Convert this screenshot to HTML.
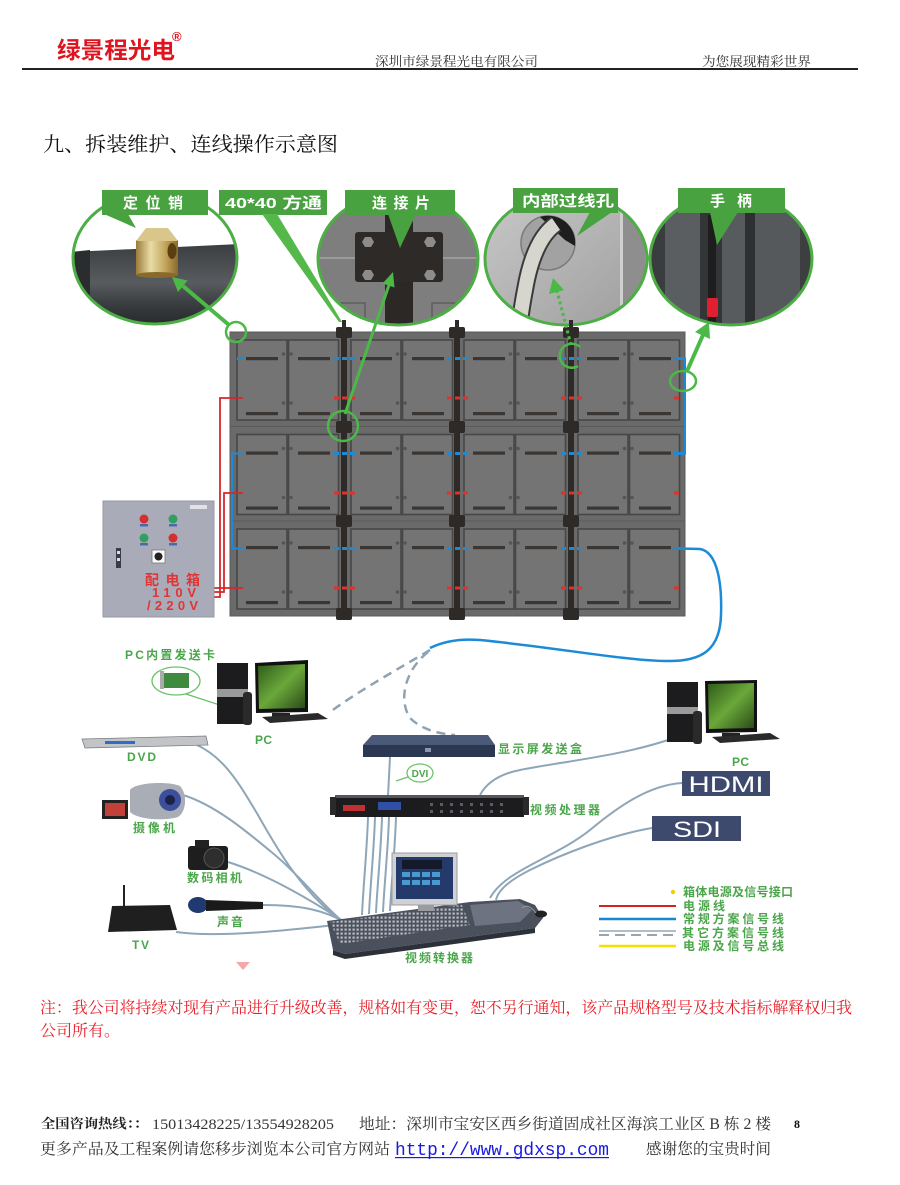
<!DOCTYPE html>
<html><head><meta charset="utf-8">
<style>
html,body{margin:0;padding:0;background:#fff;}
body{width:900px;height:1185px;overflow:hidden;position:relative;}
svg{position:absolute;left:0;top:0;}
.sr{font-family:"Liberation Serif","Noto Serif CJK SC",serif;}
.ss{font-family:"Liberation Sans","Noto Sans CJK SC",sans-serif;}
.gl{font-family:"Liberation Sans","Noto Sans CJK SC",sans-serif;fill:#4aa64a;font-weight:bold;}
</style></head>
<body>
<svg width="900" height="1185" viewBox="0 0 900 1185" xmlns="http://www.w3.org/2000/svg">
<defs>
  <g id="cab">
    <rect x="0" y="0" width="114" height="95" fill="#6a6a6a" stroke="#5a5a5a" stroke-width="1"/>
    <rect x="7" y="8" width="50" height="80" fill="#747474" stroke="#474747" stroke-width="1.6"/>
    <rect x="58.5" y="8" width="50" height="80" fill="#747474" stroke="#474747" stroke-width="1.6"/>
    <rect x="16" y="25" width="32" height="3.2" fill="#3a3633"/>
    <rect x="68" y="25" width="32" height="3.2" fill="#3a3633"/>
    <rect x="16" y="80" width="32" height="3.2" fill="#3a3633"/>
    <rect x="68" y="80" width="32" height="3.2" fill="#3a3633"/>
    <circle cx="53.5" cy="22" r="1.8" fill="#555"/><circle cx="61" cy="22" r="1.8" fill="#555"/>
    <circle cx="53.5" cy="71" r="1.8" fill="#555"/><circle cx="61" cy="71" r="1.8" fill="#555"/>
  </g>
  <clipPath id="c1"><ellipse cx="155" cy="258" rx="82" ry="66"/></clipPath>
  <clipPath id="c2"><ellipse cx="398" cy="259" rx="80" ry="66"/></clipPath>
  <clipPath id="c3"><ellipse cx="566" cy="259" rx="81" ry="66"/></clipPath>
  <clipPath id="c4"><ellipse cx="731" cy="259" rx="81" ry="66"/></clipPath>
  <linearGradient id="gold" x1="0" x2="1" y1="0" y2="0">
    <stop offset="0" stop-color="#9a7a38"/><stop offset="0.35" stop-color="#e9dca6"/><stop offset="0.7" stop-color="#c2a45c"/><stop offset="1" stop-color="#8a6a2a"/>
  </linearGradient>
  <linearGradient id="plate" x1="0" x2="0" y1="0" y2="1">
    <stop offset="0" stop-color="#3a3e41"/><stop offset="0.45" stop-color="#585c5f"/><stop offset="0.7" stop-color="#3a3d40"/><stop offset="1" stop-color="#222426"/>
  </linearGradient>
  <linearGradient id="metal" x1="0" x2="1" y1="0" y2="1">
    <stop offset="0" stop-color="#c9c9c9"/><stop offset="1" stop-color="#9c9c9c"/>
  </linearGradient>
  <linearGradient id="scr" x1="0" x2="1" y1="0" y2="1">
    <stop offset="0" stop-color="#2e5a1a"/><stop offset="0.5" stop-color="#6aa83a"/><stop offset="1" stop-color="#2a4a18"/>
  </linearGradient>
  <pattern id="btn" width="4" height="4" patternUnits="userSpaceOnUse">
    <rect width="4" height="4" fill="#4c525e"/><rect x="0.5" y="0.5" width="2.2" height="2.2" fill="#b9bec6"/>
  </pattern>
</defs>

<!-- HEADER -->
<text x="57" y="58" class="ss" font-size="23" font-weight="bold" fill="#e0141e" textLength="118" lengthAdjust="spacingAndGlyphs">绿景程光电</text>
<text x="172" y="41" class="ss" font-size="13" font-weight="bold" fill="#e0141e">®</text>
<text x="375" y="66" class="sr" font-size="13" fill="#333" textLength="163" lengthAdjust="spacingAndGlyphs">深圳市绿景程光电有限公司</text>
<text x="702" y="66" class="sr" font-size="13" fill="#333" textLength="109" lengthAdjust="spacingAndGlyphs">为您展现精彩世界</text>
<rect x="22" y="68" width="836" height="2" fill="#222"/>

<!-- TITLE -->
<text x="43" y="151" class="sr" font-size="20" fill="#111" textLength="295" lengthAdjust="spacingAndGlyphs">九、拆装维护、连线操作示意图</text>

<!-- CALLOUT 1 定位销 -->
<g clip-path="url(#c1)">
  <rect x="70" y="190" width="170" height="140" fill="#fff"/>
  <polygon points="70,252 240,244 240,330 70,330" fill="url(#plate)"/>
  <polygon points="70,252 90,250 90,330 70,330" fill="#2a2c2e"/>
  <rect x="136" y="240" width="42" height="35" fill="url(#gold)"/>
  <polygon points="136,241 146,228 168,228 178,241" fill="#d8c68a"/>
  <ellipse cx="157" cy="275" rx="21" ry="3" fill="#8a6a2a"/>
  <ellipse cx="172" cy="251" rx="4.5" ry="8" fill="#5a4010"/>
</g>
<ellipse cx="155" cy="258" rx="82" ry="66" fill="none" stroke="#4cae44" stroke-width="3"/>

<!-- CALLOUT 2 连接片 -->
<g clip-path="url(#c2)">
  <rect x="315" y="190" width="170" height="140" fill="#7e7e7e"/>
  <line x1="318" y1="258" x2="478" y2="258" stroke="#9a9a9a" stroke-width="2"/>
  <rect x="323" y="303" width="42" height="30" fill="none" stroke="#5e5e5e" stroke-width="1.5"/>
  <rect x="432" y="303" width="45" height="30" fill="none" stroke="#5e5e5e" stroke-width="1.5"/>
  <rect x="385" y="190" width="28" height="140" fill="#2b2826"/>
  <rect x="355" y="232" width="88" height="50" rx="3" fill="#2d2a28"/>
  <polygon points="362,242 365,237 371,237 374,242 371,247 365,247" fill="#8c8c8c"/>
  <polygon points="424,242 427,237 433,237 436,242 433,247 427,247" fill="#8c8c8c"/>
  <polygon points="362,275 365,270 371,270 374,275 371,280 365,280" fill="#8c8c8c"/>
  <polygon points="424,275 427,270 433,270 436,275 433,280 427,280" fill="#8c8c8c"/>
</g>
<ellipse cx="398" cy="259" rx="80" ry="66" fill="none" stroke="#4cae44" stroke-width="3"/>

<!-- CALLOUT 3 内部过线孔 -->
<g clip-path="url(#c3)">
  <rect x="483" y="190" width="168" height="140" fill="url(#metal)"/>
  <rect x="620" y="190" width="25" height="140" fill="#8e8e8e"/>
  <rect x="620" y="190" width="3" height="140" fill="#d0d0d0"/>
  <circle cx="548" cy="243" r="27" fill="#a2a2a2" stroke="#7a7a7a" stroke-width="1.5"/>
  <path d="M540,217 A27,27 0 0,1 575,246 L565,240 Z" fill="#1e1e1e"/>
  <path d="M556,224 C540,235 530,260 525,290 C522,305 520,320 518,335" fill="none" stroke="#3a3a3a" stroke-width="18"/>
  <path d="M556,224 C540,235 530,260 525,290 C522,305 520,320 518,335" fill="none" stroke="#d6d6cf" stroke-width="14"/>
</g>
<ellipse cx="566" cy="259" rx="81" ry="66" fill="none" stroke="#4cae44" stroke-width="3"/>

<!-- CALLOUT 4 手柄 -->
<g clip-path="url(#c4)">
  <rect x="648" y="190" width="168" height="140" fill="#4d5053"/>
  <rect x="650" y="190" width="15" height="140" fill="#3a3c3e"/>
  <rect x="665" y="190" width="35" height="140" fill="#5b5e61"/>
  <rect x="700" y="190" width="22" height="140" fill="#343537"/>
  <rect x="708" y="215" width="8" height="115" fill="#1d1d1e"/>
  <rect x="722" y="190" width="23" height="140" fill="#585b5e"/>
  <rect x="745" y="190" width="10" height="140" fill="#2d2f31"/>
  <rect x="755" y="190" width="45" height="140" fill="#56595c"/>
  <rect x="800" y="190" width="16" height="140" fill="#3c3e40"/>
  <rect x="707" y="298" width="11" height="19" rx="2" fill="#e02030"/>
</g>
<ellipse cx="731" cy="259" rx="81" ry="66" fill="none" stroke="#4cae44" stroke-width="3"/>

<!-- label boxes -->
<g fill="#47a23f">
  <rect x="102" y="190" width="106" height="25"/>
  <polygon points="104,214 128,214 136,228"/>
  <rect x="219" y="190" width="108" height="25"/>
  <polygon points="262,214 277,214 342,322 339,322" fill="#55b84a"/>
  <rect x="345" y="190" width="110" height="25"/>
  <polygon points="388,214 416,214 400,248"/>
  <rect x="513" y="188" width="105" height="25"/>
  <polygon points="590,212 612,212 577,236"/>
  <rect x="678" y="188" width="107" height="25"/>
  <polygon points="710,212 738,212 717,245"/>
</g>
<g class="ss" font-size="15" font-weight="bold" fill="#fff">
  <text x="123" y="208" textLength="60" lengthAdjust="spacing">定位销</text>
  <text x="225" y="208" textLength="97" lengthAdjust="spacingAndGlyphs">40*40 方通</text>
  <text x="372" y="208" textLength="58" lengthAdjust="spacing">连接片</text>
  <text x="522" y="206" textLength="92" lengthAdjust="spacingAndGlyphs">内部过线孔</text>
  <text x="710" y="206" textLength="42" lengthAdjust="spacing">手柄</text>
</g>

<!-- PANEL -->
<g>
  <use href="#cab" x="230" y="332"/><use href="#cab" x="344" y="332"/><use href="#cab" x="457" y="332"/><use href="#cab" x="571" y="332"/>
  <use href="#cab" x="230" y="426.5"/><use href="#cab" x="344" y="426.5"/><use href="#cab" x="457" y="426.5"/><use href="#cab" x="571" y="426.5"/>
  <use href="#cab" x="230" y="521"/><use href="#cab" x="344" y="521"/><use href="#cab" x="457" y="521"/><use href="#cab" x="571" y="521"/>
</g>
<!-- vertical bars -->
<g fill="#2e2a27">
  <rect x="342" y="320" width="4" height="10"/><rect x="341" y="330" width="6" height="288"/>
  <rect x="336" y="327" width="16" height="11" rx="2"/><rect x="336" y="421" width="16" height="12" rx="2"/><rect x="336" y="515" width="16" height="12" rx="2"/><rect x="336" y="608" width="16" height="12" rx="2"/>
  <rect x="455" y="320" width="4" height="10"/><rect x="454" y="330" width="6" height="288"/>
  <rect x="449" y="327" width="16" height="11" rx="2"/><rect x="449" y="421" width="16" height="12" rx="2"/><rect x="449" y="515" width="16" height="12" rx="2"/><rect x="449" y="608" width="16" height="12" rx="2"/>
  <rect x="569" y="320" width="4" height="10"/><rect x="568" y="330" width="6" height="288"/>
  <rect x="563" y="327" width="16" height="11" rx="2"/><rect x="563" y="421" width="16" height="12" rx="2"/><rect x="563" y="515" width="16" height="12" rx="2"/><rect x="563" y="608" width="16" height="12" rx="2"/>
</g>
<!-- signal/power dashes -->
<g stroke="#1b8bd8" stroke-width="3" stroke-dasharray="5 3" fill="none">
  <line x1="334" y1="358.5" x2="356" y2="358.5"/><line x1="447" y1="358.5" x2="469" y2="358.5"/><line x1="561" y1="358.5" x2="583" y2="358.5"/>
  <line x1="334" y1="453.5" x2="356" y2="453.5"/><line x1="447" y1="453.5" x2="469" y2="453.5"/><line x1="561" y1="453.5" x2="583" y2="453.5"/>
  <line x1="334" y1="548.5" x2="356" y2="548.5"/><line x1="447" y1="548.5" x2="469" y2="548.5"/><line x1="561" y1="548.5" x2="583" y2="548.5"/>
</g>
<g stroke="#e2302a" stroke-width="3" stroke-dasharray="5 3" fill="none">
  <line x1="334" y1="398" x2="356" y2="398"/><line x1="447" y1="398" x2="469" y2="398"/><line x1="561" y1="398" x2="583" y2="398"/>
  <line x1="334" y1="493" x2="356" y2="493"/><line x1="447" y1="493" x2="469" y2="493"/><line x1="561" y1="493" x2="583" y2="493"/>
  <line x1="334" y1="588" x2="356" y2="588"/><line x1="447" y1="588" x2="469" y2="588"/><line x1="561" y1="588" x2="583" y2="588"/>
</g>
<!-- edge connectors -->
<g stroke-width="3" fill="none">
  <line x1="237" y1="358.5" x2="243" y2="358.5" stroke="#1b8bd8"/>
  <line x1="673" y1="358.5" x2="684" y2="358.5" stroke="#1b8bd8"/>
  <line x1="673" y1="453.5" x2="684" y2="453.5" stroke="#1b8bd8"/>
  <line x1="673" y1="548.5" x2="684" y2="548.5" stroke="#1b8bd8"/>
  <line x1="674" y1="398" x2="679" y2="398" stroke="#e2302a"/>
  <line x1="674" y1="493" x2="679" y2="493" stroke="#e2302a"/>
  <line x1="674" y1="588" x2="679" y2="588" stroke="#e2302a"/>
</g>
<!-- blue wiring -->
<g stroke="#1b8bd8" stroke-width="2" fill="none">
  <polyline points="243,453.5 232,453.5 232,548.5 243,548.5"/>
  <polyline points="678,358.5 685,358.5 685,453.5 678,453.5"/>
  <path d="M680,548.5 L700,549 C718,552 722,585 721,615 C720,650 702,662 665,661 C620,660 560,648 480,640 C455,638 440,643 430,648" stroke-width="2.5"/>
</g>
<!-- red power wiring -->
<g stroke="#d8262a" stroke-width="1.8" fill="none">
  <polyline points="214,597 220,597 220,398 243,398"/>
  <polyline points="214,592 224,592 224,493 243,493"/>
  <polyline points="214,588 243,588"/>
</g>

<!-- green arrows -->
<g stroke="#4cb848" fill="none">
  <circle cx="236" cy="332" r="10" stroke-width="2.5"/>
  <line x1="229" y1="325" x2="183" y2="286" stroke-width="4"/>
  <circle cx="343" cy="426" r="15" stroke-width="2.5"/>
  <line x1="345" y1="414" x2="389" y2="285" stroke-width="3"/>
  <line x1="571" y1="345" x2="557" y2="291" stroke-width="3" stroke-dasharray="3 3"/>
  <path d="M580,347 A12,12 0 1,0 578,366" stroke-width="2.5"/>
  <ellipse cx="683" cy="381" rx="13" ry="10" stroke-width="2.5"/>
  <line x1="687" y1="371" x2="703" y2="335" stroke-width="4"/>
</g>
<g fill="#4cb848">
  <polygon points="172,277 187.5,280.5 178,292"/>
  <polygon points="393,272 394.5,287.5 382.5,283.5"/>
  <polygon points="553,278 564,290 549,294"/>
  <polygon points="709,322 710,339 695,332"/>
</g>

<!-- CONTROL BOX -->
<rect x="103" y="501" width="111" height="116" fill="#a9abb8" stroke="#9799a6" stroke-width="1"/>
<rect x="190" y="505" width="17" height="4" fill="#e2e2e6"/>
<circle cx="144" cy="519" r="4.5" fill="#d43030"/><rect x="140" y="524" width="8" height="2.5" fill="#4a6ab0"/>
<circle cx="173" cy="519" r="4.5" fill="#2fa060"/><rect x="169" y="524" width="8" height="2.5" fill="#4a6ab0"/>
<circle cx="144" cy="538" r="4.5" fill="#2fa060"/><rect x="140" y="543" width="8" height="2.5" fill="#4a6ab0"/>
<circle cx="173" cy="538" r="4.5" fill="#d43030"/><rect x="169" y="543" width="8" height="2.5" fill="#4a6ab0"/>
<rect x="152" y="550" width="13" height="13" fill="#fafafa" stroke="#777" stroke-width="0.8"/>
<circle cx="158.5" cy="556.5" r="4" fill="#222"/>
<rect x="116" y="548" width="5" height="20" fill="#3a3c4c"/>
<rect x="117" y="551" width="3" height="3" fill="#ddd"/><rect x="117" y="558" width="3" height="3" fill="#ddd"/>
<g class="ss" fill="#e03535" font-weight="bold">
  <text x="145" y="585" font-size="14" textLength="55" lengthAdjust="spacing">配电箱</text>
  <text x="152" y="597" font-size="13" textLength="44" lengthAdjust="spacing">110V</text>
  <text x="147" y="610" font-size="13" textLength="51" lengthAdjust="spacing">/220V</text>
</g>

<!-- dashed other-signal lines -->
<g stroke="#8ea3b3" stroke-width="2.5" fill="none" stroke-dasharray="9 6">
  <path d="M430,650 C400,668 360,690 330,712"/>
  <path d="M428,652 C405,670 398,700 410,718 C422,730 440,734 455,735"/>
</g>

<!-- solid other-signal cables -->
<g stroke="#8ea6b8" stroke-width="2" fill="none">
  <path d="M197,745 C225,758 240,785 258,815 C275,845 300,890 338,918"/>
  <path d="M183,795 C215,805 245,830 275,855 C300,876 318,900 341,920"/>
  <path d="M228,862 C260,872 300,893 343,921"/>
  <path d="M263,905 C300,905 325,910 346,923"/>
  <path d="M176,932 C220,938 290,930 344,924"/>
  <path d="M368,817 C367,850 363,890 362,915"/>
  <path d="M375,817 C374,850 370,890 369,914"/>
  <path d="M382,817 C381,850 377,890 376,913"/>
  <path d="M389,817 C388,850 384,888 383,912"/>
  <path d="M396,817 C395,850 391,888 390,911"/>
  <path d="M390,757 L388,796"/>
  <path d="M480,795 C487,782 500,774 520,770 C560,762 620,756 668,740"/>
  <path d="M682,783 C650,785 620,805 590,830 C555,858 505,870 490,898"/>
  <path d="M652,828 C610,835 560,855 530,870 C510,880 498,890 496,900"/>
</g>

<!-- LEFT PC -->
<text x="125" y="659" class="gl" font-size="12" textLength="90" lengthAdjust="spacing">PC内置发送卡</text>
<ellipse cx="176" cy="681" rx="24" ry="14" fill="#fff" stroke="#6cc26a" stroke-width="1.3"/>
<path d="M186,694 L232,709" stroke="#6cc26a" stroke-width="1.2" fill="none"/>
<rect x="163" y="673" width="26" height="15" fill="#3e8a3e"/>
<rect x="160" y="671" width="4" height="18" fill="#aaa"/>
<rect x="217" y="663" width="31" height="61" fill="#1c1c1e"/>
<rect x="217" y="689" width="31" height="8" fill="#9a9a9a"/>
<rect x="243" y="692" width="9" height="33" rx="3" fill="#2a2a2a"/>
<polygon points="255,663 308,660 308,712 256,713" fill="#111"/>
<polygon points="258,666 305,664 305,708 259,709" fill="url(#scr)"/>
<rect x="272" y="713" width="18" height="5" fill="#222"/>
<polygon points="262,717 318,713 328,719 270,723" fill="#2a2a2a"/>
<text x="255" y="744" class="gl" font-size="12" textLength="17" lengthAdjust="spacing">PC</text>

<!-- DVD -->
<polygon points="82,739 206,736 208,745 85,748" fill="#c2c4c8" stroke="#7a7c80" stroke-width="0.8"/>
<rect x="105" y="741" width="30" height="3" fill="#2c6fc0"/>
<text x="127" y="761" class="gl" font-size="12" textLength="29" lengthAdjust="spacing">DVD</text>

<!-- Camcorder -->
<path d="M130,790 C135,782 170,781 180,786 C188,795 186,812 178,817 C165,821 138,820 130,812 Z" fill="#a9adb5"/>
<circle cx="170" cy="800" r="11" fill="#3b4f9a"/><circle cx="170" cy="800" r="5" fill="#1a2248"/>
<rect x="102" y="800" width="26" height="19" fill="#222"/>
<rect x="105" y="803" width="20" height="13" fill="#c2403a"/>
<text x="133" y="832" class="gl" font-size="12" textLength="42" lengthAdjust="spacing">摄像机</text>

<!-- Camera -->
<rect x="188" y="846" width="40" height="24" rx="3" fill="#1e1e1e"/>
<rect x="195" y="840" width="14" height="8" fill="#222"/>
<circle cx="214" cy="858" r="10" fill="#2e2e2e" stroke="#555" stroke-width="1"/>
<text x="187" y="882" class="gl" font-size="12" textLength="55" lengthAdjust="spacing">数码相机</text>

<!-- Router -->
<line x1="124" y1="885" x2="124" y2="907" stroke="#222" stroke-width="2"/>
<polygon points="112,906 170,905 177,930 108,932" fill="#1f1f1f"/>
<text x="132" y="949" class="gl" font-size="12" textLength="17" lengthAdjust="spacing">TV</text>

<!-- Mic -->
<ellipse cx="198" cy="905" rx="10" ry="8" fill="#1e3a70"/>
<polygon points="206,900 263,902 263,909 206,911" fill="#1a1a1a"/>
<text x="217" y="926" class="gl" font-size="12" textLength="26" lengthAdjust="spacing">声音</text>

<!-- Sender box -->
<polygon points="372,735 488,735 495,745 363,745" fill="#4a5a78"/>
<rect x="363" y="745" width="132" height="12" fill="#2c3852"/>
<rect x="425" y="748" width="6" height="4" fill="#8a96b0"/>
<text x="498" y="753" class="gl" font-size="12" textLength="84" lengthAdjust="spacing">显示屏发送盒</text>

<!-- DVI bubble -->
<ellipse cx="420" cy="773" rx="13" ry="9" fill="#fff" stroke="#6cc26a" stroke-width="1.3"/>
<path d="M408,777 L396,781" stroke="#6cc26a" stroke-width="1.2"/>
<text x="420" y="777" class="gl" font-size="10" text-anchor="middle">DVI</text>

<!-- Processor -->
<rect x="335" y="795" width="189" height="22" fill="#1c1c1f"/>
<rect x="335" y="795" width="189" height="3" fill="#55575c"/>
<rect x="330" y="797" width="6" height="18" fill="#2a2a2d"/>
<rect x="523" y="797" width="6" height="18" fill="#2a2a2d"/>
<rect x="343" y="805" width="22" height="6" fill="#c03030"/>
<rect x="378" y="802" width="23" height="8" fill="#3050a8"/>
<g fill="#5a5c62"><rect x="430" y="803" width="3" height="3"/><rect x="440" y="803" width="3" height="3"/><rect x="450" y="803" width="3" height="3"/><rect x="460" y="803" width="3" height="3"/><rect x="470" y="803" width="3" height="3"/><rect x="480" y="803" width="3" height="3"/><rect x="490" y="803" width="3" height="3"/><rect x="500" y="803" width="3" height="3"/><rect x="430" y="810" width="3" height="3"/><rect x="440" y="810" width="3" height="3"/><rect x="450" y="810" width="3" height="3"/><rect x="460" y="810" width="3" height="3"/><rect x="470" y="810" width="3" height="3"/><rect x="480" y="810" width="3" height="3"/><rect x="490" y="810" width="3" height="3"/><rect x="500" y="810" width="3" height="3"/></g>
<text x="530" y="814" class="gl" font-size="12" textLength="70" lengthAdjust="spacing">视频处理器</text>

<!-- Switcher -->
<path d="M327,921 L470,902 L520,899 L535,905 L543,918 L535,928 L345,954 L333,950 Z" fill="#4a505c"/>
<path d="M330,922 L462,905 L470,925 L340,944 Z" fill="url(#btn)"/>
<path d="M470,905 L518,901 L532,910 L520,922 L475,926 Z" fill="#6d7380"/>
<path d="M333,950 L345,954 L535,928 L535,933 L345,959 L333,955 Z" fill="#2c3038"/>
<rect x="392" y="853" width="65" height="52" fill="#cfd1d4" stroke="#9a9c9f" stroke-width="1"/>
<rect x="396" y="857" width="57" height="42" fill="#243a6a"/>
<g fill="#4a9ad0"><rect x="402" y="872" width="8" height="5"/><rect x="412" y="872" width="8" height="5"/><rect x="422" y="872" width="8" height="5"/><rect x="432" y="872" width="8" height="5"/><rect x="402" y="880" width="8" height="5"/><rect x="412" y="880" width="8" height="5"/><rect x="422" y="880" width="8" height="5"/><rect x="432" y="880" width="8" height="5"/></g>
<rect x="402" y="860" width="40" height="9" fill="#151a2a"/>
<rect x="418" y="905" width="16" height="6" fill="#9a9c9f"/>
<ellipse cx="541" cy="914" rx="6" ry="3.5" fill="#222"/>
<path d="M536,913 C530,905 525,905 522,908" stroke="#999" stroke-width="1" fill="none"/>
<text x="405" y="962" class="gl" font-size="12" textLength="68" lengthAdjust="spacing">视频转换器</text>
<polygon points="236,962 250,962 243,970" fill="#f4a8a8"/>

<!-- Right PC -->
<rect x="667" y="682" width="31" height="60" fill="#1c1c1e"/>
<rect x="667" y="707" width="31" height="7" fill="#9a9a9a"/>
<rect x="693" y="711" width="9" height="33" rx="3" fill="#2a2a2a"/>
<polygon points="705,681 757,680 757,732 706,733" fill="#111"/>
<polygon points="708,684 754,683 754,728 709,729" fill="url(#scr)"/>
<rect x="722" y="733" width="18" height="5" fill="#222"/>
<polygon points="712,737 770,733 780,739 720,743" fill="#2a2a2a"/>
<text x="732" y="766" class="gl" font-size="12" textLength="17" lengthAdjust="spacing">PC</text>

<!-- HDMI / SDI -->
<rect x="682" y="771" width="88" height="25" fill="#3d4a6e"/>
<text x="726" y="792" class="ss" font-size="22" fill="#fff" text-anchor="middle" textLength="75" lengthAdjust="spacingAndGlyphs">HDMI</text>
<rect x="652" y="816" width="89" height="25" fill="#3d4a6e"/>
<text x="697" y="837" class="ss" font-size="22" fill="#fff" text-anchor="middle" textLength="48" lengthAdjust="spacingAndGlyphs">SDI</text>

<!-- Legend -->
<circle cx="673" cy="892" r="2.2" fill="#f0d000"/>
<line x1="599" y1="906" x2="676" y2="906" stroke="#d62020" stroke-width="2"/>
<line x1="599" y1="919" x2="676" y2="919" stroke="#1a86d0" stroke-width="2.5"/>
<line x1="599" y1="931" x2="676" y2="931" stroke="#95a5b5" stroke-width="1.5"/>
<line x1="599" y1="935" x2="676" y2="935" stroke="#95a5b5" stroke-width="2" stroke-dasharray="10 6"/>
<line x1="599" y1="946" x2="676" y2="946" stroke="#f2e000" stroke-width="2.5"/>
<g class="gl" font-size="12" font-weight="normal">
  <text x="683" y="896" textLength="110" lengthAdjust="spacing">箱体电源及信号接口</text>
  <text x="683" y="910" textLength="42" lengthAdjust="spacing">电源线</text>
  <text x="683" y="923" textLength="101" lengthAdjust="spacing">常规方案信号线</text>
  <text x="682" y="937" textLength="102" lengthAdjust="spacing">其它方案信号线</text>
  <text x="683" y="950" textLength="101" lengthAdjust="spacing">电源及信号总线</text>
</g>

<!-- NOTE -->
<g class="sr" fill="#e8202a" font-size="16">
  <text x="40" y="1013" textLength="812" lengthAdjust="spacingAndGlyphs">注：我公司将持续对现有产品进行升级改善，规格如有变更，恕不另行通知，该产品规格型号及技术指标解释权归我</text>
  <text x="40" y="1036">公司所有。</text>
</g>

<!-- FOOTER -->
<g class="sr" fill="#333">
  <text x="41" y="1128" font-size="13" font-weight="bold" fill="#222" textLength="107" lengthAdjust="spacingAndGlyphs">全国咨询热线：：</text>
  <text x="152" y="1129" font-size="15" textLength="182" lengthAdjust="spacingAndGlyphs">15013428225/13554928205</text>
  <text x="359" y="1129" font-size="15.5" textLength="412" lengthAdjust="spacingAndGlyphs">地址：深圳市宝安区西乡街道固成社区海滨工业区 B 栋 2 楼</text>
  <text x="794" y="1128" font-size="12" font-weight="bold" fill="#111">8</text>
  <text x="40" y="1154" font-size="15.5" textLength="350" lengthAdjust="spacingAndGlyphs">更多产品及工程案例请您移步浏览本公司官方网站</text>
  <text x="395" y="1155" font-family="Liberation Mono, monospace" font-size="18" fill="#1a1ae0" textLength="214" lengthAdjust="spacingAndGlyphs">http://www.gdxsp.com</text>
  <text x="646" y="1154" font-size="15.5" textLength="125" lengthAdjust="spacingAndGlyphs">感谢您的宝贵时间</text>
</g>
<rect x="395" y="1157" width="214" height="1.2" fill="#1a1ae0"/>
</svg>
</body></html>
